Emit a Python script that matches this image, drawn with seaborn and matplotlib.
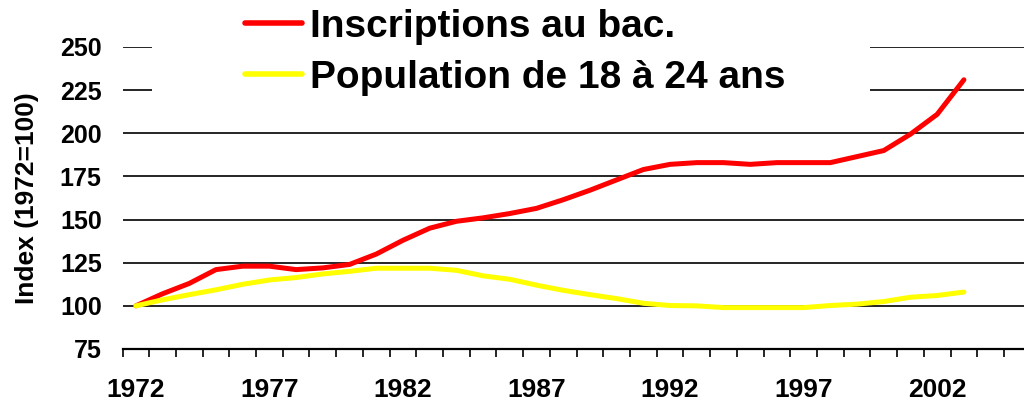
import numpy as np
import pandas as pd
import matplotlib
matplotlib.use("Agg")
import matplotlib.pyplot as plt
from matplotlib.patches import Rectangle
from matplotlib.ticker import MultipleLocator
import seaborn as sns

# ------------------------------------
# Data (index, 1972 = 100)
# ------------------------------------
years = list(range(1972, 2004))
inscriptions = [100, 107, 113, 121, 123, 123, 121, 122, 124, 130, 138, 145,
                149, 151, 153.5, 156.5, 161.5, 167, 173, 179, 182, 183,
                183, 182, 183, 183, 183, 186.5, 190, 199.5, 211, 231]
population = [100, 103.5, 106.5, 109.3, 112.5, 115, 116.4, 118.5, 120, 121.8,
              121.8, 121.8, 120.6, 117.4, 115.4, 112, 109, 106.5, 104.2, 101.5,
              100.2, 100, 99, 99, 99, 99, 100.2, 101, 102.5, 105, 106, 108]
series_names = ["Inscriptions au bac.", "Population de 18 à 24 ans"]
series_colors = ["#FF0000", "#FFFF00"]
label_years = [1972, 1977, 1982, 1987, 1992, 1997, 2002]
y_ticks = [75, 100, 125, 150, 175, 200, 225, 250]

df = pd.DataFrame({
    "year": years * 2,
    "value": inscriptions + population,
    "serie": [series_names[0]] * len(years) + [series_names[1]] * len(years),
})

# ------------------------------------
# Plot
# ------------------------------------
sns.set_style("white")
plt.rcParams["font.family"] = ["Liberation Sans", "DejaVu Sans"]
plt.rcParams["font.weight"] = "bold"
plt.rcParams["text.color"] = "black"
plt.rcParams["axes.labelcolor"] = "black"
plt.rcParams["xtick.color"] = "black"
plt.rcParams["ytick.color"] = "black"

fig = plt.figure(figsize=(10.24, 4.05), dpi=100)
ax = fig.add_axes([122.5 / 1024, 1 - 349 / 405, 1 - 122.5 / 1024, (349 - 47) / 405])

sns.lineplot(data=df, x="year", y="value", hue="serie", palette=series_colors,
             hue_order=series_names, linewidth=3.6, ax=ax, legend=False,
             solid_capstyle="round", zorder=4)

ax.set_xlim(1971.5, 2005.25)
ax.set_ylim(75, 250)
ax.set_yticks(y_ticks)
ax.set_xticks(label_years)
ax.xaxis.set_minor_locator(MultipleLocator(1, offset=0.5))
ax.grid(axis="y", color="black", linewidth=1.2, zorder=1)
ax.set_axisbelow(True)

for side in ["top", "right", "left"]:
    ax.spines[side].set_visible(False)
ax.spines["bottom"].set_color("black")
ax.spines["bottom"].set_linewidth(1.6)

ax.tick_params(axis="x", which="major", length=0, pad=21, labelsize=19,
               labelcolor="black")
ax.tick_params(axis="x", which="minor", length=6, width=1.2, direction="out",
               color="black", bottom=True)
ax.tick_params(axis="y", length=0, pad=15, labelsize=18, labelcolor="black")
for lab in ax.get_xticklabels() + ax.get_yticklabels():
    lab.set_fontweight("bold")

ax.set_xlabel("")
ax.set_ylabel("Index (1972=100)", fontsize=19, fontweight="bold",
              color="black", labelpad=15)

# white block behind the legend hides the top gridlines
ax.add_patch(Rectangle((152 / 1024, 1 - 105 / 405), (870 - 152) / 1024, 105 / 405,
                       transform=fig.transFigure, facecolor="white",
                       edgecolor="none", zorder=2, clip_on=False))

handles = [plt.Line2D([], [], color=c, linewidth=4, solid_capstyle="round")
           for c in series_colors]
leg = fig.legend(handles, series_names, loc="upper left",
                 bbox_to_anchor=(226 / 1024, 1.027), frameon=False,
                 prop={"size": 28, "weight": "bold"}, handlelength=1.45,
                 handletextpad=0.22, labelspacing=0.4, borderpad=0,
                 labelcolor="black")
leg.set_zorder(5)

fig.savefig("out.png", dpi=100)
